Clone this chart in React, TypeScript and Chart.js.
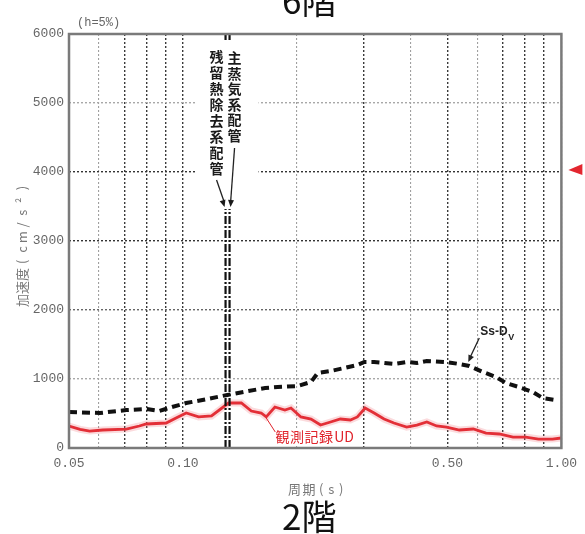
import React, { useEffect, useRef } from 'react';
import { Chart, registerables } from 'chart.js';

Chart.register(...registerables);

// ---- axis ticks ----
const xTickValues = [0.05, 0.06, 0.07, 0.08, 0.09, 0.1, 0.2, 0.3, 0.4, 0.5, 0.6, 0.7, 0.8, 0.9, 1.0];
const xTickLabels = ['0.05', '', '', '', '', '0.10', '', '', '', '0.50', '', '', '', '', '1.00'];
const yTickValues = [0, 1000, 2000, 3000, 4000, 5000, 6000];

// ---- Ss-DV design spectrum (dashed black) ----
const ssdvPeriods = [0.05, 0.0603, 0.0709, 0.08, 0.0866, 0.0936, 0.102, 0.1135, 0.131, 0.149, 0.165, 0.178, 0.201, 0.218, 0.227, 0.2455, 0.267, 0.289, 0.3015, 0.32, 0.34, 0.361, 0.39, 0.415, 0.441, 0.497, 0.5375, 0.571, 0.621, 0.672, 0.713, 0.772, 0.84, 0.892, 0.964];
const ssdvValues = [522, 507, 550, 565, 536, 594, 652, 700, 768, 826, 870, 884, 898, 957, 1087, 1116, 1159, 1203, 1246, 1246, 1232, 1217, 1246, 1232, 1261, 1246, 1217, 1188, 1101, 1029, 942, 884, 812, 725, 696];

// ---- observed record UD (red) ----
const obsPeriods = [0.05, 0.0535, 0.0567, 0.0614, 0.0709, 0.0767, 0.08, 0.0903, 0.0959, 0.102, 0.11, 0.119, 0.132, 0.1427, 0.1516, 0.161, 0.166, 0.175, 0.186, 0.193, 0.205, 0.218, 0.231, 0.2455, 0.2606, 0.277, 0.289, 0.303, 0.32, 0.34, 0.361, 0.39, 0.415, 0.441, 0.468, 0.497, 0.5375, 0.585, 0.632, 0.685, 0.745, 0.805, 0.87, 0.947, 1.0];
const obsValues = [319, 270, 246, 261, 275, 319, 348, 362, 435, 507, 450, 464, 652, 652, 536, 507, 450, 594, 550, 580, 450, 420, 333, 377, 420, 406, 450, 580, 507, 420, 362, 304, 333, 377, 319, 304, 261, 275, 217, 203, 159, 159, 130, 130, 145];

// ---- piping natural periods (dash-dot verticals) ----
const pipingPeriods = [0.1296, 0.1328];
const pipingArrowValue = 3550;

// ---- texts ----
const titleTop = '6階';
const titleBottom = '2階';
const xTitleMain = '周期';
const xTitleUnit = '(s)';
const yTitleMain = '加速度';
const yTitleUnit = '(cm/s²)';
const dampingNote = '(h=5%)';
const pipingMain = '主蒸気系配管';
const pipingRhr = '残留熱除去系配管';
const ssLabel = 'Ss-D';
const ssLabelSub = 'V';
const obsLabelMain = '観測記録';
const obsLabelUnit = 'UD';
const ssLabelIndex = 27;
const obsLabelIndex = 16;

const CJK = '"Noto Sans CJK JP", "Noto Sans", sans-serif';
const MONO = '"Liberation Mono", "DejaVu Sans Mono", monospace';

function cells(ctx: any, text: string, x: number, y: number, cell: number) {
  [...text].forEach((ch, i) => ctx.fillText(ch, x + cell * i + cell / 2, y));
  return x + cell * [...text].length;
}

function seg(ctx: any, x1: number, y1: number, x2: number, y2: number) {
  ctx.beginPath();
  ctx.moveTo(x1, y1);
  ctx.lineTo(x2, y2);
  ctx.stroke();
}

function arrowHead(ctx: any, x1: number, y1: number, x2: number, y2: number, len: number, half: number) {
  const a = Math.atan2(y2 - y1, x2 - x1);
  ctx.beginPath();
  ctx.moveTo(x2, y2);
  ctx.lineTo(x2 - len * Math.cos(a) + half * Math.sin(a), y2 - len * Math.sin(a) - half * Math.cos(a));
  ctx.lineTo(x2 - len * Math.cos(a) - half * Math.sin(a), y2 - len * Math.sin(a) + half * Math.cos(a));
  ctx.closePath();
  ctx.fill();
}

const decor = {
  id: 'decor',
  beforeDraw(chart: any) {
    const { ctx, width, height } = chart;
    ctx.save();
    ctx.fillStyle = '#fff';
    ctx.fillRect(0, 0, width, height);
    ctx.restore();
  },
  afterDatasetsDraw(chart: any) {
    const { ctx, chartArea: ca } = chart;
    const x = chart.scales.x;
    const y = chart.scales.y;
    const xa = x.getPixelForValue(pipingPeriods[0]);
    const xb = x.getPixelForValue(pipingPeriods[1]);
    const xm = (xa + xb) / 2;
    const yTip = y.getPixelForValue(pipingArrowValue);
    ctx.save();
    // mask behind the vertical annotation
    ctx.fillStyle = '#fff';
    ctx.fillRect(xm - 31, ca.top + 6, 62, yTip + 6 - (ca.top + 6));
    // vertical labels
    ctx.fillStyle = '#1a1a1a';
    ctx.font = `bold 14px ${CJK}`;
    ctx.textAlign = 'center';
    ctx.textBaseline = 'middle';
    [...pipingMain].forEach((ch, i) => ctx.fillText(ch, xm + 7, ca.top + 16 + 15.5 * i + 7.75));
    [...pipingRhr].forEach((ch, i) => ctx.fillText(ch, xm - 11, ca.top + 15 + 16 * i + 8));
    // leaders + arrowheads
    ctx.strokeStyle = '#222';
    ctx.lineWidth = 1.3;
    seg(ctx, xm + 7, ca.top + 114, xb + 1, yTip);
    seg(ctx, xm - 11, ca.top + 146, xa - 1, yTip);
    arrowHead(ctx, xm + 7, ca.top + 114, xb + 1, yTip + 4, 7, 3);
    arrowHead(ctx, xm - 11, ca.top + 146, xa - 1, yTip + 4, 7, 3);

    // Ss-DV label
    const sx = x.getPixelForValue(ssdvPeriods[ssLabelIndex]);
    const sy = y.getPixelForValue(ssdvValues[ssLabelIndex]);
    ctx.fillStyle = '#222';
    ctx.textAlign = 'left';
    ctx.font = `bold 12px "Liberation Sans", Arial, sans-serif`;
    ctx.fillText(ssLabel, sx + 11, sy - 34);
    const w = ctx.measureText(ssLabel).width;
    ctx.font = `bold 9px "Liberation Sans", Arial, sans-serif`;
    ctx.fillText(ssLabelSub, sx + 11 + w + 0.5, sy - 29);
    ctx.lineWidth = 1.3;
    seg(ctx, sx + 10, sy - 28, sx + 1, sy - 9);
    arrowHead(ctx, sx + 10, sy - 28, sx - 1, sy - 4, 7, 3);

    // observed label
    const ox = x.getPixelForValue(obsPeriods[obsLabelIndex]);
    const oy = y.getPixelForValue(obsValues[obsLabelIndex]);
    ctx.fillStyle = '#fff';
    ctx.fillRect(ox + 9, oy + 12, 82, 16);
    ctx.strokeStyle = '#e0232b';
    ctx.lineWidth = 1;
    seg(ctx, ox, oy + 1, ox + 9, oy + 15);
    ctx.fillStyle = '#e0232b';
    ctx.font = `14px ${CJK}`;
    ctx.textAlign = 'center';
    const ex = cells(ctx, obsLabelMain, ox + 9, oy + 20, 14.5);
    ctx.textAlign = 'left';
    ctx.fillText(obsLabelUnit, ex + 1, oy + 20);
    ctx.restore();
  },
  afterDraw(chart: any) {
    const { ctx, chartArea: ca } = chart;
    const y = chart.scales.y;
    ctx.save();
    // frame
    ctx.strokeStyle = '#7a7a7a';
    ctx.lineWidth = 2.5;
    ctx.strokeRect(ca.left, ca.top, ca.right - ca.left, ca.bottom - ca.top);

    const cx = (ca.left + ca.right) / 2 - 6;
    // floor titles
    ctx.fillStyle = '#111';
    ctx.textAlign = 'center';
    ctx.textBaseline = 'alphabetic';
    ctx.font = `35px ${CJK}`;
    ctx.fillText(titleTop, cx, 14);
    ctx.fillText(titleBottom, cx, 530);

    // axis titles
    ctx.fillStyle = '#777';
    ctx.font = `13px ${CJK}`;
    ctx.textBaseline = 'middle';
    const tx = cells(ctx, xTitleMain, cx - 22, ca.bottom + 41, 14.5);
    cells(ctx, xTitleUnit, tx, ca.bottom + 41, 10);

    const my = (ca.top + ca.bottom) / 2 + 3.5;
    ctx.translate(22, my + 62.5);
    ctx.rotate(-Math.PI / 2);
    const ux = cells(ctx, yTitleMain, 0, 0, 13);
    cells(ctx, yTitleUnit, ux, 0, 12.3);
    ctx.setTransform(1, 0, 0, 1, 0, 0);

    // damping note
    ctx.fillStyle = '#666';
    ctx.font = `12px ${MONO}`;
    ctx.textAlign = 'left';
    ctx.fillText(dampingNote, ca.left + 8, ca.top - 11);

    // red marker at right edge
    const yy = y.getPixelForValue(4000) - 2;
    ctx.fillStyle = '#e3262f';
    ctx.beginPath();
    ctx.moveTo(ca.right + 7, yy);
    ctx.lineTo(ca.right + 21, yy - 6);
    ctx.lineTo(ca.right + 21, yy + 5);
    ctx.closePath();
    ctx.fill();
    ctx.restore();
  },
};

const darkX = [0.07, 0.08, 0.09, 0.1, 0.3, 0.5, 0.7, 0.8, 0.9];
const yGridColor: Record<number, string> = { 1000: '#a8a8a8', 2000: '#666', 3000: '#333', 4000: '#333', 5000: '#a8a8a8' };

export default function App() {
  const ref = useRef<HTMLCanvasElement | null>(null);
  useEffect(() => {
    if (!ref.current) return;
    const ssdv = ssdvPeriods.map((p, i) => ({ x: p, y: ssdvValues[i] }));
    const obs = obsPeriods.map((p, i) => ({ x: p, y: obsValues[i] }));
    const pipingSets = pipingPeriods.map((p) => ({
      label: 'piping',
      data: [{ x: p, y: 0 }, { x: p, y: 6000 }],
      borderColor: '#111',
      borderWidth: 2.2,
      borderDash: [8, 2, 2, 2],
      pointRadius: 0,
    }));
    const chart = new Chart(ref.current, {
      type: 'line',
      data: {
        datasets: [
          ...pipingSets,
          { label: 'glow', data: obs, borderColor: 'rgba(235,90,100,0.22)', borderWidth: 7, pointRadius: 0 },
          { label: obsLabelMain + obsLabelUnit, data: obs, borderColor: '#e0232b', borderWidth: 2.8, pointRadius: 0 },
          { label: ssLabel + ssLabelSub, data: ssdv, borderColor: '#111', borderWidth: 4, borderDash: [8, 5], pointRadius: 0 },
        ] as any,
      },
      options: {
        responsive: false,
        animation: false,
        layout: { padding: { top: 34, right: 19, left: 0, bottom: 0 } },
        plugins: { legend: { display: false }, tooltip: { enabled: false } },
        scales: {
          x: {
            type: 'logarithmic',
            min: 0.05,
            max: 1,
            afterBuildTicks: (s: any) => {
              s.ticks = xTickValues.map((v) => ({ value: v }));
            },
            afterFit: (s: any) => {
              s.height = 86;
            },
            ticks: {
              autoSkip: false,
              maxRotation: 0,
              minRotation: 0,
              padding: 8,
              color: '#666',
              font: { family: MONO, size: 13 },
              callback: (v: any) => {
                const i = xTickValues.indexOf(Number(v));
                return i >= 0 ? xTickLabels[i] : '';
              },
            },
            grid: {
              drawTicks: false,
              color: (c: any) => (darkX.includes(c.tick?.value) ? '#3a3a3a' : '#a0a0a0'),
              lineWidth: (c: any) => (darkX.includes(c.tick?.value) ? 1.4 : 1.1),
            },
            border: { display: false, dash: [2, 2] },
          },
          y: {
            min: 0,
            max: 6000,
            afterBuildTicks: (s: any) => {
              s.ticks = yTickValues.map((v) => ({ value: v }));
            },
            afterFit: (s: any) => {
              s.width = 69;
            },
            ticks: {
              padding: 5,
              color: '#666',
              font: { family: MONO, size: 13 },
              callback: (v: any) => String(v),
            },
            grid: {
              drawTicks: false,
              color: (c: any) => yGridColor[c.tick?.value] ?? 'rgba(0,0,0,0)',
              lineWidth: 1.4,
            },
            border: { display: false, dash: [2, 2] },
          },
        } as any,
      },
      plugins: [decor],
    });
    return () => chart.destroy();
  }, []);
  return (
    <div style={{ position: 'absolute', left: 0, top: 0, width: 585, height: 534 }}>
      <canvas ref={ref} width={585} height={534} style={{ display: 'block' }} />
    </div>
  );
}
